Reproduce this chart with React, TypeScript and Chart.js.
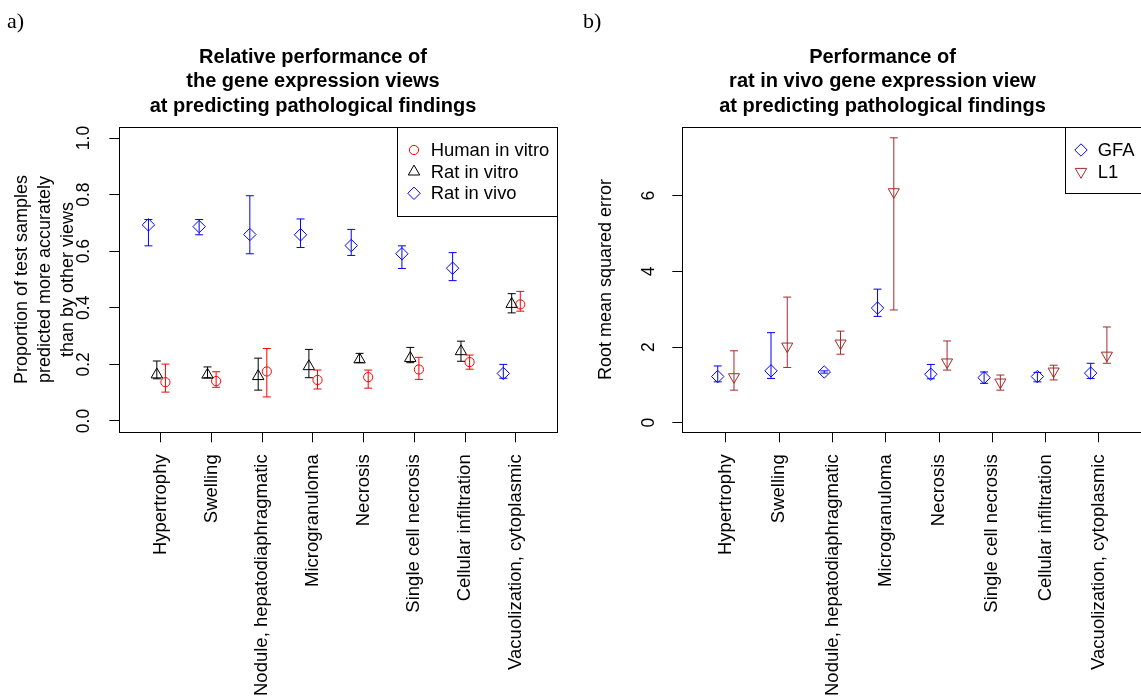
import React, { useEffect, useRef } from "react";
import { Chart, registerables } from "chart.js";

Chart.register(...registerables);

const SANS = "'Liberation Sans', Arial, Helvetica, sans-serif";
const SERIF = "'Liberation Serif', 'Times New Roman', serif";

// ---------- data ----------
const categories = [
  "Hypertrophy",
  "Swelling",
  "Nodule, hepatodiaphragmatic",
  "Microgranuloma",
  "Necrosis",
  "Single cell necrosis",
  "Cellular infiltration",
  "Vacuolization, cytoplasmic",
];

const yTicksA = [0, 0.2, 0.4, 0.6, 0.8, 1.0];
const yTicksB = [0, 2, 4, 6];

// panel a
const humanInVitro = [0.137, 0.141, 0.175, 0.145, 0.155, 0.182, 0.208, 0.412];
const humanInVitroLow = [0.102, 0.119, 0.085, 0.113, 0.116, 0.147, 0.183, 0.388];
const humanInVitroHigh = [0.201, 0.174, 0.256, 0.18, 0.18, 0.225, 0.233, 0.458];

const ratInVitro = [0.164, 0.163, 0.158, 0.193, 0.217, 0.222, 0.246, 0.413];
const ratInVitroLow = [0.149, 0.153, 0.109, 0.153, 0.207, 0.206, 0.211, 0.382];
const ratInVitroHigh = [0.212, 0.191, 0.222, 0.253, 0.239, 0.26, 0.282, 0.45];

const ratInVivo = [0.693, 0.687, 0.659, 0.658, 0.62, 0.591, 0.54, 0.168];
const ratInVivoLow = [0.619, 0.658, 0.591, 0.613, 0.585, 0.539, 0.496, 0.151];
const ratInVivoHigh = [0.712, 0.712, 0.796, 0.714, 0.677, 0.619, 0.595, 0.2];

// panel b
const gfa = [1.22, 1.37, 1.34, 3.03, 1.28, 1.19, 1.22, 1.31];
const gfaLow = [1.08, 1.17, 1.31, 2.81, 1.16, 1.04, 1.08, 1.17];
const gfaHigh = [1.5, 2.38, 1.37, 3.53, 1.54, 1.34, 1.33, 1.57];

const l1 = [1.21, 2.02, 2.1, 6.1, 1.6, 1.07, 1.36, 1.78];
const l1Low = [0.86, 1.46, 1.81, 2.98, 1.39, 0.86, 1.13, 1.57];
const l1High = [1.9, 3.32, 2.42, 7.53, 2.16, 1.26, 1.52, 2.53];

const titleA = ["Relative performance of", "the gene expression views", "at predicting pathological findings"];
const titleB = ["Performance of", "rat in vivo gene expression view", "at predicting pathological findings"];
const yTitleA = ["Proportion of test samples", "predicted more accurately", "than by other views"];
const yTitleB = ["Root mean squared error"];
const legendLabelsA = ["Human in vitro", "Rat in vitro", "Rat in vivo"];
const legendLabelsB = ["GFA", "L1"];

// ---------- helpers ----------
type Sym = "circle" | "triUp" | "diamond" | "triDown";

function drawSym(ctx: CanvasRenderingContext2D, sym: Sym, x: number, y: number, color: string) {
  ctx.save();
  ctx.strokeStyle = color;
  ctx.lineWidth = 1;
  ctx.beginPath();
  if (sym === "circle") {
    ctx.arc(x, y, 4.6, 0, Math.PI * 2);
  } else if (sym === "diamond") {
    const r = 6.2;
    ctx.moveTo(x, y - r);
    ctx.lineTo(x + r, y);
    ctx.lineTo(x, y + r);
    ctx.lineTo(x - r, y);
    ctx.closePath();
  } else {
    const r = 6.6;
    const s = sym === "triUp" ? 1 : -1;
    const h = r * Math.sin(Math.PI / 3);
    ctx.moveTo(x, y - s * r);
    ctx.lineTo(x + h, y + (s * r) / 2);
    ctx.lineTo(x - h, y + (s * r) / 2);
    ctx.closePath();
  }
  ctx.stroke();
  ctx.restore();
}

const errorBarPlugin = {
  id: "errorBars",
  afterDatasetsDraw(chart: any) {
    const ctx = chart.ctx as CanvasRenderingContext2D;
    const xs = chart.scales.x;
    const ys = chart.scales.y;
    chart.data.datasets.forEach((ds: any) => {
      ctx.save();
      ctx.strokeStyle = ds.errColor;
      ctx.lineWidth = 1;
      ds.data.forEach((p: any, i: number) => {
        const x = xs.getPixelForValue(p.x);
        const y1 = ys.getPixelForValue(ds.errLow[i]);
        const y2 = ys.getPixelForValue(ds.errHigh[i]);
        ctx.beginPath();
        ctx.moveTo(x, y1);
        ctx.lineTo(x, y2);
        ctx.moveTo(x - 4, y1);
        ctx.lineTo(x + 4, y1);
        ctx.moveTo(x - 4, y2);
        ctx.lineTo(x + 4, y2);
        ctx.stroke();
      });
      ctx.restore();
    });
  },
};

interface PanelDeco {
  tag: string;
  tagX: number;
  titleLines: string[];
  titleX: number;
  yTitleLines: string[];
  yTitleXs: number[];
  legendBox: { left: number; top: number; right: number; bottom: number };
  legendSymX: number;
  legendTextX: number;
  legendRows: number[];
  legendItems: { label: string; sym: Sym; color: string }[];
}

function makeDecoPlugin(d: PanelDeco) {
  return {
    id: "deco",
    afterDraw(chart: any) {
      const ctx = chart.ctx as CanvasRenderingContext2D;
      const a = chart.chartArea;
      ctx.save();
      // panel tag
      ctx.fillStyle = "#000";
      ctx.font = `22px ${SERIF}`;
      ctx.textAlign = "left";
      ctx.textBaseline = "alphabetic";
      ctx.fillText(d.tag, d.tagX, 28);
      // title
      ctx.font = `bold 20px ${SANS}`;
      ctx.textAlign = "center";
      const baselines = [62.5, 87.3, 112.2];
      d.titleLines.forEach((t, i) => ctx.fillText(t, d.titleX, baselines[i]));
      // y title
      const cy = (a.top + a.bottom) / 2;
      ctx.font = `18px ${SANS}`;
      d.yTitleLines.forEach((t, i) => {
        ctx.save();
        ctx.translate(d.yTitleXs[i], cy);
        ctx.rotate(-Math.PI / 2);
        ctx.textAlign = "center";
        ctx.textBaseline = "middle";
        ctx.fillText(t, 0, 0);
        ctx.restore();
      });
      // box
      ctx.strokeStyle = "#000";
      ctx.lineWidth = 1;
      const L = Math.round(a.left) + 0.5;
      const T = Math.round(a.top) + 0.5;
      const R = Math.round(a.right) + 0.5;
      const B = Math.round(a.bottom) + 0.5;
      ctx.strokeRect(L, T, R - L, B - T);
      // legend
      const lb = d.legendBox;
      const lL = Math.round(lb.left) + 0.5;
      const lT = Math.round(lb.top) + 0.5;
      const lR = Math.round(lb.right) + 0.5;
      const lB = Math.round(lb.bottom) + 0.5;
      ctx.strokeRect(lL, lT, lR - lL, lB - lT);
      ctx.font = `18.4px ${SANS}`;
      ctx.textAlign = "left";
      ctx.textBaseline = "middle";
      d.legendItems.forEach((it, i) => {
        drawSym(ctx, it.sym, d.legendSymX, d.legendRows[i], it.color);
        ctx.fillStyle = "#000";
        ctx.fillText(it.label, d.legendTextX, d.legendRows[i] + 1);
      });
      ctx.restore();
    },
  };
}

interface SeriesCfg {
  label: string;
  values: number[];
  low: number[];
  high: number[];
  offset: number;
  color: string;
  style: string;
  radius: number;
  rotation?: number;
}

function buildDatasets(series: SeriesCfg[]) {
  return series.map((s) => ({
    label: s.label,
    data: s.values.map((v, i) => ({ x: i + 1 + s.offset, y: v })),
    errLow: s.low,
    errHigh: s.high,
    errColor: s.color,
    showLine: false,
    pointStyle: s.style,
    pointRadius: s.radius,
    pointRotation: s.rotation ?? 0,
    pointBorderColor: s.color,
    pointBackgroundColor: "rgba(0,0,0,0)",
    pointBorderWidth: 1,
    borderColor: s.color,
    backgroundColor: "rgba(0,0,0,0)",
  }));
}

interface PanelCfg {
  width: number;
  yWidth: number;
  rightPad: number;
  yMin: number;
  yMax: number;
  yTicks: number[];
  yFmt: (v: number) => string;
  yTickPadding: number;
  series: SeriesCfg[];
  deco: PanelDeco;
}

function Panel({ cfg, left }: { cfg: PanelCfg; left: number }) {
  const ref = useRef<HTMLCanvasElement | null>(null);
  useEffect(() => {
    if (!ref.current) return;
    const chart = new Chart(ref.current, {
      type: "scatter",
      data: { datasets: buildDatasets(cfg.series) as any },
      options: {
        responsive: false,
        animation: false,
        events: [],
        layout: { padding: { top: 126.7, left: 0, right: cfg.rightPad, bottom: 0 } },
        plugins: { legend: { display: false }, tooltip: { enabled: false }, title: { display: false } },
        scales: {
          x: {
            type: "linear",
            min: 0.18,
            max: 8.82,
            afterBuildTicks: (s: any) => {
              s.ticks = categories.map((_, i) => ({ value: i + 1 }));
            },
            afterFit: (s: any) => {
              s.height = 696 - 432.3;
            },
            grid: { drawOnChartArea: false, drawTicks: true, tickLength: 10, color: "#000", lineWidth: 1 },
            border: { display: false },
            ticks: {
              autoSkip: false,
              minRotation: 90,
              maxRotation: 90,
              padding: 12,
              color: "#000",
              font: { family: SANS, size: 18.5 },
              callback: (v: any) => categories[Math.round(Number(v)) - 1] ?? "",
            },
          },
          y: {
            type: "linear",
            min: cfg.yMin,
            max: cfg.yMax,
            afterBuildTicks: (s: any) => {
              s.ticks = cfg.yTicks.map((v) => ({ value: v }));
            },
            afterFit: (s: any) => {
              s.width = cfg.yWidth;
            },
            grid: { drawOnChartArea: false, drawTicks: true, tickLength: 10, color: "#000", lineWidth: 1 },
            border: { display: false },
            ticks: {
              autoSkip: false,
              minRotation: 90,
              maxRotation: 90,
              crossAlign: "center",
              padding: cfg.yTickPadding,
              color: "#000",
              font: { family: SANS, size: 17.5 },
              callback: (v: any) => cfg.yFmt(Number(v)),
            },
          },
        },
      } as any,
      plugins: [errorBarPlugin, makeDecoPlugin(cfg.deco)],
    });
    return () => chart.destroy();
  }, [cfg]);
  return (
    <canvas
      ref={ref}
      width={cfg.width}
      height={696}
      style={{ position: "absolute", left, top: 0, width: cfg.width, height: 696 }}
    />
  );
}

const panelA: PanelCfg = {
  width: 570,
  yWidth: 119.3,
  rightPad: 12.7,
  yMin: -0.04,
  yMax: 1.04,
  yTicks: yTicksA,
  yFmt: (v) => v.toFixed(1),
  yTickPadding: 13,
  series: [
    { label: legendLabelsA[2], values: ratInVivo, low: ratInVivoLow, high: ratInVivoHigh, offset: -0.245, color: "#0000ff", style: "rectRot", radius: 6.2 },
    { label: legendLabelsA[1], values: ratInVitro, low: ratInVitroLow, high: ratInVitroHigh, offset: -0.08, color: "#000000", style: "triangle", radius: 6.6 },
    { label: legendLabelsA[0], values: humanInVitro, low: humanInVitroLow, high: humanInVitroHigh, offset: 0.09, color: "#ff0000", style: "circle", radius: 4.6 },
  ],
  deco: {
    tag: "a)",
    tagX: 7,
    titleLines: titleA,
    titleX: 313,
    yTitleLines: yTitleA,
    yTitleXs: [22.5, 45.5, 68.5],
    legendBox: { left: 397.3, top: 126.7, right: 557.3, bottom: 215.7 },
    legendSymX: 414,
    legendTextX: 430.7,
    legendRows: [150, 171.7, 193.3],
    legendItems: [
      { label: legendLabelsA[0], sym: "circle", color: "#ff0000" },
      { label: legendLabelsA[1], sym: "triUp", color: "#000000" },
      { label: legendLabelsA[2], sym: "diamond", color: "#0000ff" },
    ],
  },
};

const panelB: PanelCfg = {
  width: 580,
  yWidth: 112.3,
  rightPad: 7.2,
  yMin: -0.254,
  yMax: 7.824,
  yTicks: yTicksB,
  yFmt: (v) => String(v),
  yTickPadding: 18,
  series: [
    { label: legendLabelsB[0], values: gfa, low: gfaLow, high: gfaHigh, offset: -0.155, color: "#0000ff", style: "rectRot", radius: 6.2 },
    { label: legendLabelsB[1], values: l1, low: l1Low, high: l1High, offset: 0.15, color: "#a52a2a", style: "triangle", radius: 6.4, rotation: 180 },
  ],
  deco: {
    tag: "b)",
    tagX: 13,
    titleLines: titleB,
    titleX: 312.5,
    yTitleLines: yTitleB,
    yTitleXs: [36],
    legendBox: { left: 495, top: 126.7, right: 572.8, bottom: 192.7 },
    legendSymX: 511,
    legendTextX: 527.7,
    legendRows: [150, 171.7],
    legendItems: [
      { label: legendLabelsB[0], sym: "diamond", color: "#0000ff" },
      { label: legendLabelsB[1], sym: "triDown", color: "#a52a2a" },
    ],
  },
};

export default function App() {
  return (
    <div
      style={{
        position: "absolute",
        left: 0,
        top: 0,
        width: 1141,
        height: 696,
        overflow: "hidden",
        background: "#ffffff",
      }}
    >
      <Panel cfg={panelA} left={0} />
      <Panel cfg={panelB} left={570} />
    </div>
  );
}
